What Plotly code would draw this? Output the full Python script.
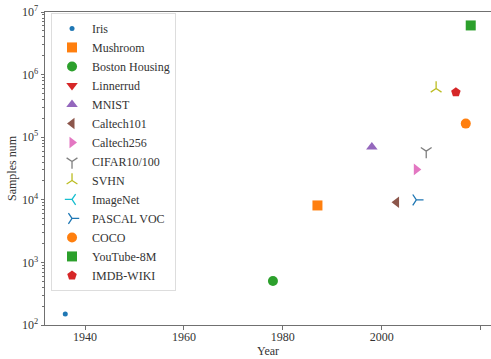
import plotly.graph_objects as go

names = ["Iris", "Mushroom", "Boston Housing", "Linnerrud", "MNIST", "Caltech101",
         "Caltech256", "CIFAR10/100", "SVHN", "ImageNet", "PASCAL VOC", "COCO",
         "YouTube-8M", "IMDB-WIKI"]
years = [1936, 1987, 1978, 1979, 1998, 2003, 2007, 2009, 2011, 2009, 2007, 2017, 2018, 2015]
samples = [150, 8124, 506, 20, 70000, 9146, 30607, 60000, 600000, 14197122, 9963,
           165000, 6100000, 523051]

colors = ["#1f77b4", "#ff7f0e", "#2ca02c", "#d62728", "#9467bd", "#8c564b", "#e377c2",
          "#7f7f7f", "#bcbd22", "#17becf", "#1f77b4", "#ff7f0e", "#2ca02c", "#d62728"]
symbols = ["circle", "square", "circle", "triangle-down", "triangle-up", "triangle-left",
           "triangle-right", "y-down", "y-up", "y-left", "y-right", "circle", "square",
           "pentagon"]
sizes = [5, 10, 10, 10, 10, 10, 10, 9, 9, 9, 9, 10, 10, 10]
open_syms = {"y-down", "y-up", "y-left", "y-right"}

ytickvals = [1e2, 1e3, 1e4, 1e5, 1e6, 1e7]
yticktext = ["10<sup>2</sup>", "10<sup>3</sup>", "10<sup>4</sup>", "10<sup>5</sup>",
             "10<sup>6</sup>", "10<sup>7</sup>"]
xtickvals = [1940, 1960, 1980, 2000, 2020]

fig = go.Figure()
for n, x, y, c, s, sz in zip(names, years, samples, colors, symbols, sizes):
    if s in open_syms:
        marker = dict(symbol=s, size=sz, color=c, line=dict(color=c, width=1.3))
    else:
        marker = dict(symbol=s, size=sz, color=c, line=dict(width=0))
    fig.add_trace(go.Scatter(x=[x], y=[y], mode="markers", name=n, marker=marker,
                             hoverinfo="skip"))

axis_color = "#707070"
fig.update_layout(
    width=491, height=359,
    margin=dict(l=45, r=0, t=12, b=34),
    paper_bgcolor="white", plot_bgcolor="white",
    font=dict(family="Liberation Serif", size=12, color="#333333"),
    showlegend=True,
    legend=dict(x=0.0135, y=0.997, xanchor="left", yanchor="top",
                bgcolor="rgba(255,255,255,0.8)", bordercolor="#dddddd", borderwidth=1,
                font=dict(family="Liberation Serif", size=12, color="#333333"),
                itemsizing="trace"),
    xaxis=dict(range=[1931.9, 2022.1], tickvals=xtickvals, showgrid=False, zeroline=False,
               showline=True, linecolor=axis_color, linewidth=1, mirror=True,
               ticks="outside", ticklen=3.5, tickcolor=axis_color, automargin=False,
               ticklabelstandoff=-3,
               title=dict(text="Year", standoff=2, font=dict(size=12))),
    yaxis=dict(type="log", range=[2, 7], tickvals=ytickvals, ticktext=yticktext,
               showgrid=False, zeroline=False,
               showline=True, linecolor=axis_color, linewidth=1, mirror=False,
               ticks="outside", ticklen=3.5, tickcolor=axis_color, automargin=False,
               minor=dict(ticks="outside", ticklen=2, tickcolor=axis_color, dtick="D1",
                          showgrid=False),
               title=dict(text="Samples num", standoff=2, font=dict(size=12))),
)

fig.write_html("out.html", config={"displayModeBar": False},
               post_script="document.body.style.margin='0px';")
